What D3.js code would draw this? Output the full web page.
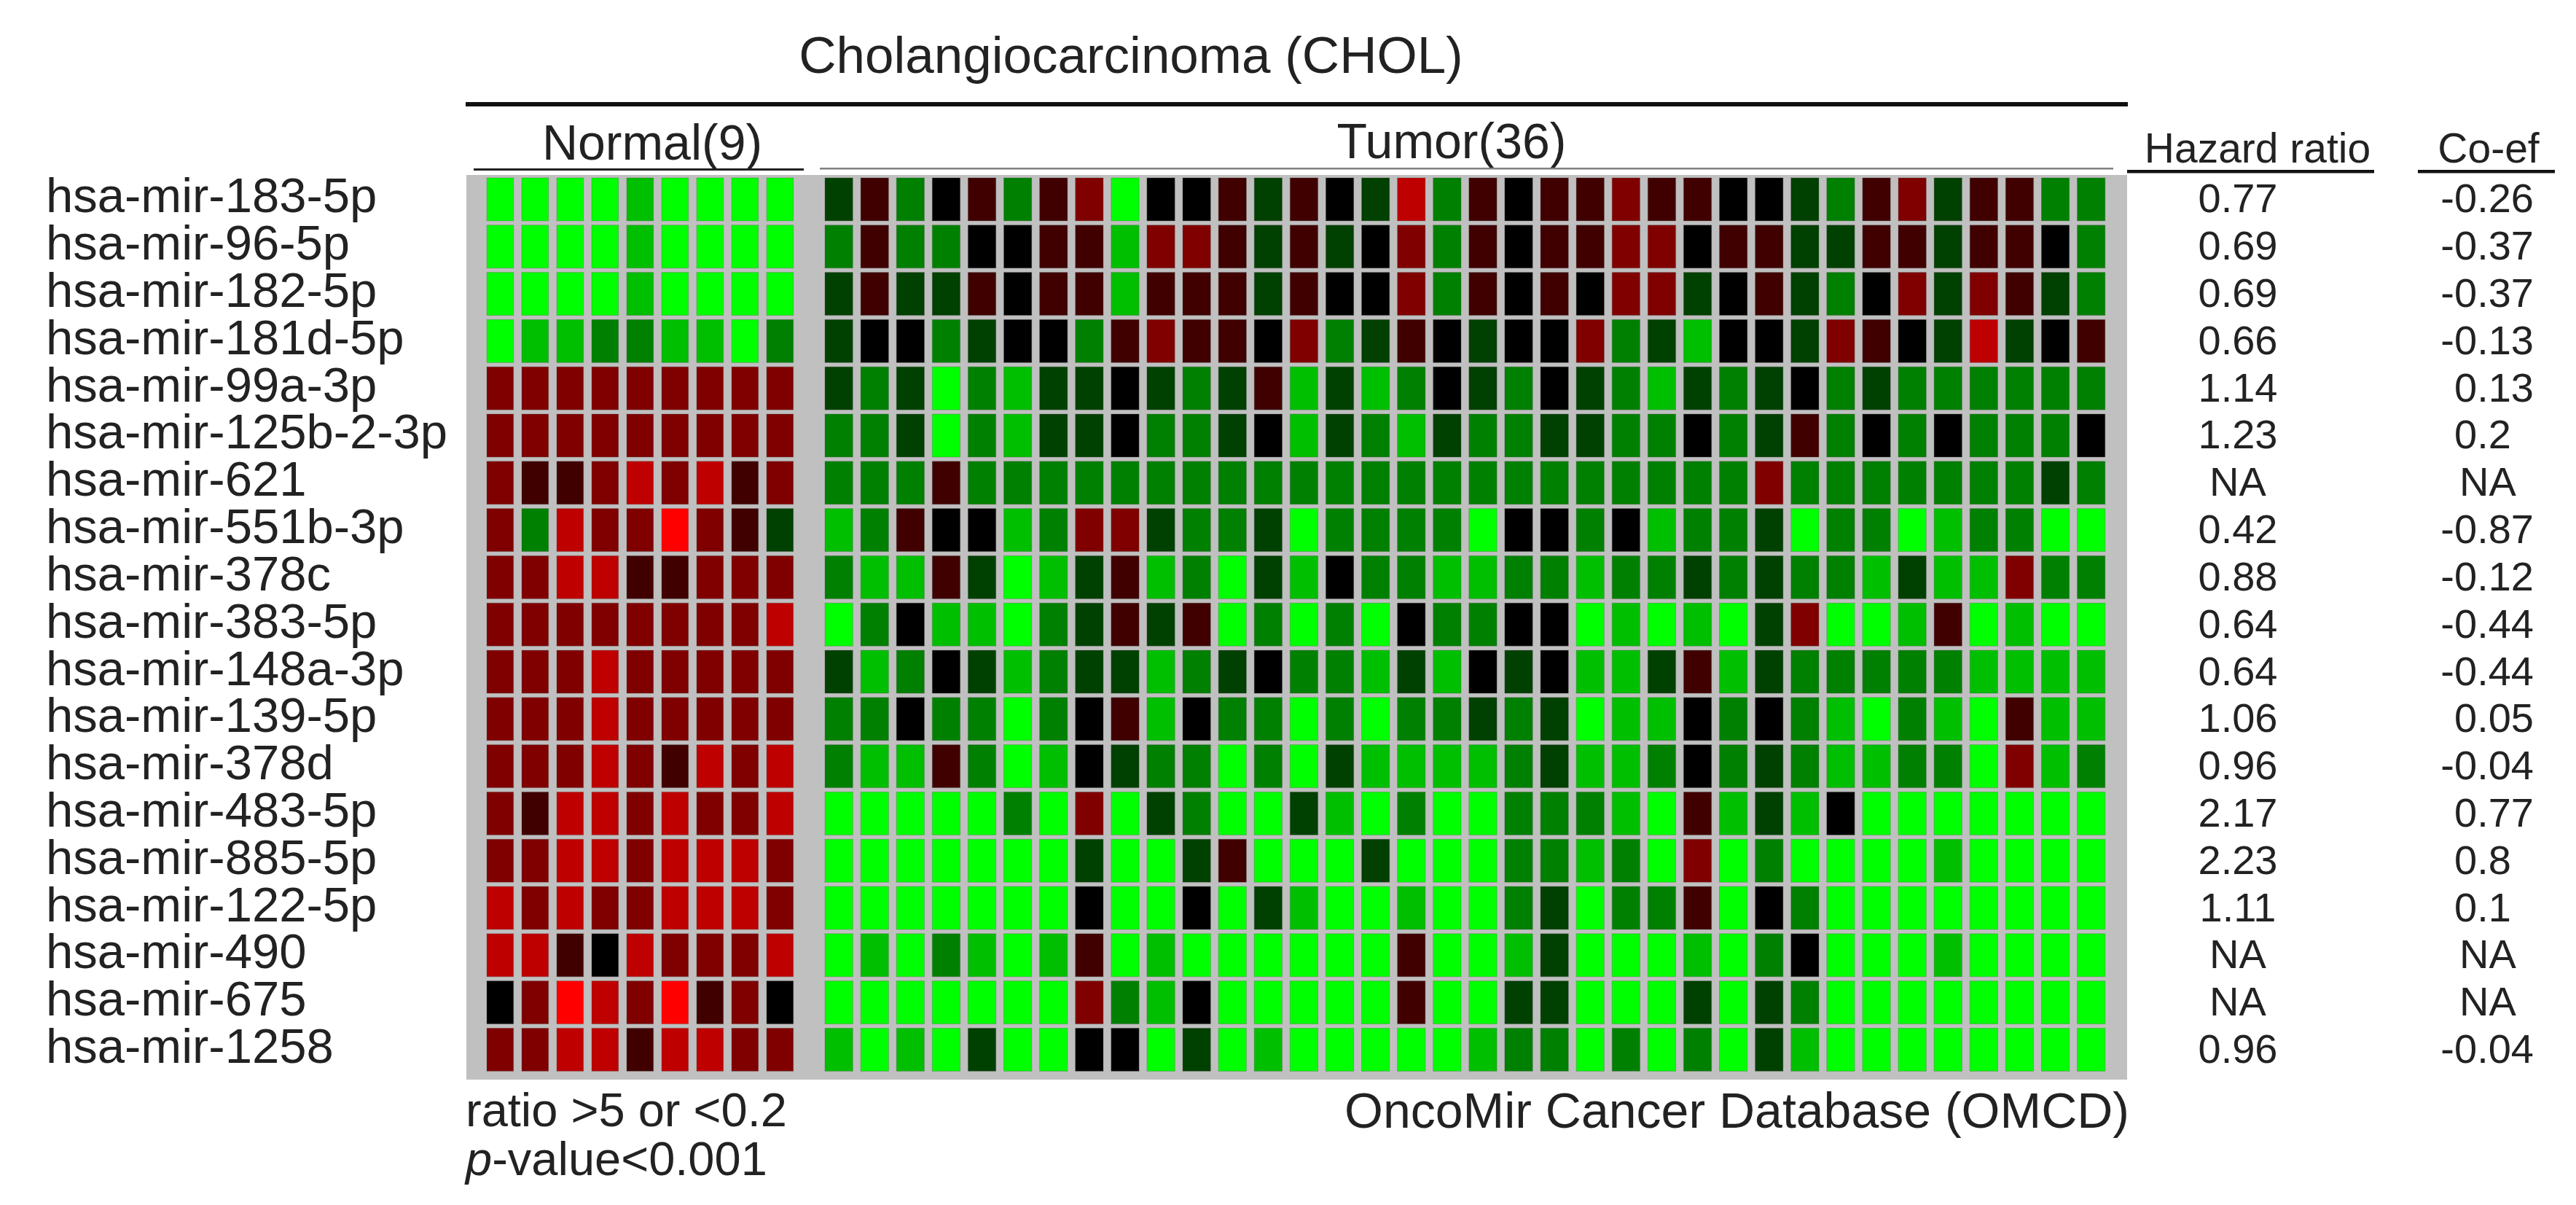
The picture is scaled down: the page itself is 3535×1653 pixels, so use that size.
<!DOCTYPE html>
<html><head><meta charset="utf-8">
<script src="https://cdn.jsdelivr.net/npm/d3@7"></script>
<style>
html,body{margin:0;padding:0;background:#fff;}
text{font-family:"Liberation Sans",Arial,sans-serif;fill:#222;}
</style>
</head><body>
<svg id="chart" width="3535" height="1653"></svg>
<script>
// ---------------- data ----------------
const mirnas = ["hsa-mir-183-5p","hsa-mir-96-5p","hsa-mir-182-5p","hsa-mir-181d-5p","hsa-mir-99a-3p",
  "hsa-mir-125b-2-3p","hsa-mir-621","hsa-mir-551b-3p","hsa-mir-378c","hsa-mir-383-5p","hsa-mir-148a-3p",
  "hsa-mir-139-5p","hsa-mir-378d","hsa-mir-483-5p","hsa-mir-885-5p","hsa-mir-122-5p","hsa-mir-490",
  "hsa-mir-675","hsa-mir-1258"];
const normalSamples = d3.range(1, 10).map(i => "N" + i);
const tumorSamples = d3.range(1, 37).map(i => "T" + i);
// expression level: -4 (strong green / down) .. 0 (black) .. 4 (strong red / up)
const normalValues = [
  [-4,-4,-4,-4,-3,-4,-4,-4,-4],
  [-4,-4,-4,-4,-3,-4,-4,-4,-4],
  [-4,-4,-4,-4,-3,-4,-4,-4,-4],
  [-4,-3,-3,-2,-2,-3,-3,-4,-2],
  [2,2,2,2,2,2,2,2,2],
  [2,2,2,2,2,2,2,2,2],
  [2,1,1,2,3,2,3,1,2],
  [2,-2,3,2,2,4,2,1,-1],
  [2,2,3,3,1,1,2,2,2],
  [2,2,2,2,2,2,2,2,3],
  [2,2,2,3,2,2,2,2,2],
  [2,2,2,3,2,2,2,2,2],
  [2,2,2,3,2,1,3,2,3],
  [2,1,3,3,2,3,2,2,3],
  [2,2,3,3,2,3,3,3,2],
  [3,2,3,2,2,3,3,3,2],
  [3,3,1,0,3,2,2,2,3],
  [0,2,4,3,2,4,1,2,0],
  [2,2,3,3,1,3,3,2,2]
];
const tumorValues = [
  [-1,1,-2,0,1,-2,1,2,-4,0,0, 1,-1,1,0,-1,3,-2,1,0,1,1, 2,1,1,0,0,-1,-2,1,2,-1,1,1, -2,-2],
  [-2,1,-2,-2,0,0,1,1,-3,2,2, 1,-1,1,-1,0,2,-2,1,0,1,1, 2,2,0,1,1,-1,-1,1,1,-1,1,1, 0,-2],
  [-1,1,-1,-1,1,0,1,1,-3,1,1, 1,-1,1,0,0,2,-2,1,0,1,0, 2,2,-1,0,1,-1,-2,0,2,-1,2,1, -1,-2],
  [-1,0,0,-2,-1,0,0,-2,1,2,1, 1,0,2,-2,-1,1,0,-1,0,0,2, -2,-1,-3,0,0,-1,2,1,0,-1,3,-1, 0,1],
  [-1,-2,-1,-4,-2,-3,-1,-1,0,-1,-2, -1,1,-3,-1,-3,-2,0,-1,-2,0,-1, -2,-3,-1,-2,-1,0,-2,-1,-2,-2,-2,-2, -2,-2],
  [-2,-2,-1,-4,-2,-3,-1,-1,0,-2,-2, -1,0,-3,-1,-2,-3,-1,-2,-2,-1,-1, -2,-2,0,-2,-1,1,-2,0,-2,0,-2,-2, -2,0],
  [-2,-2,-2,1,-2,-2,-2,-2,-2,-2,-2, -2,-2,-2,-2,-2,-2,-2,-2,-2,-2,-2, -2,-2,-2,-2,2,-2,-2,-2,-2,-2,-2,-2, -1,-2],
  [-3,-2,1,0,0,-3,-2,2,2,-1,-2, -2,-1,-4,-2,-2,-2,-2,-4,0,0,-2, 0,-3,-2,-2,-1,-4,-2,-2,-4,-3,-2,-2, -4,-4],
  [-2,-3,-3,1,-1,-4,-3,-1,1,-3,-2, -4,-1,-3,0,-2,-2,-3,-3,-2,-2,-3, -2,-2,-1,-2,-1,-2,-2,-3,-1,-3,-3,2, -2,-2],
  [-4,-2,0,-3,-3,-4,-2,-1,1,-1,1, -4,-2,-4,-2,-4,0,-2,-2,0,0,-4, -3,-4,-3,-4,-1,2,-4,-4,-3,1,-4,-3, -4,-4],
  [-1,-3,-2,0,-1,-3,-2,-1,-1,-3,-2, -1,0,-2,-2,-3,-1,-3,0,-1,0,-3, -3,-1,1,-3,-1,-2,-2,-2,-2,-2,-3,-3, -3,-3],
  [-2,-2,0,-2,-2,-4,-2,0,1,-3,0, -2,-2,-4,-2,-4,-2,-2,-1,-2,-1,-4, -3,-3,0,-2,0,-2,-3,-4,-2,-3,-4,1, -3,-3],
  [-2,-3,-3,1,-2,-4,-3,0,-1,-2,-2, -4,-2,-4,-1,-3,-3,-3,-3,-2,-1,-3, -3,-2,0,-2,-1,-2,-3,-3,-2,-2,-4,2, -3,-2],
  [-4,-4,-4,-4,-4,-2,-4,2,-4,-1,-2, -4,-4,-1,-3,-4,-2,-4,-4,-2,-2,-2, -3,-4,1,-3,-1,-3,0,-4,-4,-4,-4,-4, -4,-4],
  [-4,-4,-4,-4,-4,-4,-4,-1,-4,-4,-1, 1,-4,-4,-4,-1,-4,-4,-4,-2,-2,-3, -2,-4,2,-4,-2,-4,-4,-4,-4,-3,-4,-4, -4,-4],
  [-4,-4,-4,-4,-4,-4,-4,0,-4,-4,0, -4,-1,-3,-4,-4,-3,-4,-4,-2,-1,-4, -2,-2,1,-4,0,-2,-4,-4,-4,-4,-4,-4, -4,-4],
  [-4,-3,-4,-2,-3,-4,-3,1,-4,-3,-4, -4,-4,-4,-4,-4,1,-4,-4,-3,-1,-4, -4,-4,-3,-4,-2,0,-4,-4,-4,-3,-4,-4, -4,-4],
  [-4,-4,-4,-4,-4,-4,-4,2,-2,-3,0, -4,-4,-4,-4,-4,1,-4,-4,-1,-1,-4, -4,-4,-1,-4,-1,-2,-4,-4,-4,-4,-4,-4, -4,-4],
  [-3,-4,-3,-4,-1,-4,-4,0,0,-4,-1, -4,-3,-4,-4,-4,-4,-4,-3,-2,-2,-4, -2,-4,-2,-4,-1,-3,-4,-4,-4,-4,-4,-4, -4,-4]
];
const hazardRatio = ["0.77","0.69","0.69","0.66","1.14","1.23","NA","0.42","0.88","0.64","0.64","1.06","0.96","2.17","2.23","1.11","NA","NA","0.96"];
const coefficient = ["-0.26","-0.37","-0.37","-0.13","0.13","0.2","NA","-0.87","-0.12","-0.44","-0.44","0.05","-0.04","0.77","0.8","0.1","NA","NA","-0.04"];

// ---------------- chart ----------------
const svg = d3.select("#chart");
svg.append("rect").attr("width", 3535).attr("height", 1653).attr("fill", "#fff");

const color = d3.scaleLinear().domain([-4, 0, 4]).range(["#00ff00", "#000000", "#ff0000"]);

const y = d3.scaleBand().domain(mirnas).range([244, 1469.4]).paddingInner(0.09).paddingOuter(0);
const xN = d3.scaleBand().domain(normalSamples).range([668, 1088.7]).paddingInner(0.235).paddingOuter(0);
const xT = d3.scaleBand().domain(tumorSamples).range([1132, 2888.8]).paddingInner(0.22).paddingOuter(0);

// grey panel
svg.append("rect").attr("x", 640).attr("y", 240).attr("width", 2919 - 640).attr("height", 1481 - 240).attr("fill", "#c0c0c0");

function drawBlock(values, samples, x, cls) {
  const cells = [];
  values.forEach((row, i) => row.forEach((v, j) => cells.push({r: mirnas[i], c: samples[j], v})));
  svg.append("g").attr("class", cls).selectAll("rect").data(cells).join("rect")
    .attr("x", d => x(d.c)).attr("y", d => y(d.r))
    .attr("width", x.bandwidth()).attr("height", y.bandwidth())
    .attr("fill", d => color(d.v))
    .attr("stroke", "rgba(90,90,90,0.35)").attr("stroke-width", 1);
}
drawBlock(normalValues, normalSamples, xN, "normal");
drawBlock(tumorValues, tumorSamples, xT, "tumor");

// title and header lines
svg.append("text").attr("x", 1552).attr("y", 100).attr("text-anchor", "middle").attr("font-size", 71).text("Cholangiocarcinoma (CHOL)");
svg.append("rect").attr("x", 639).attr("y", 140).attr("width", 2920 - 639).attr("height", 6).attr("fill", "#111");

svg.append("text").attr("x", 895).attr("y", 219).attr("text-anchor", "middle").attr("font-size", 68).text("Normal(9)");
svg.append("rect").attr("x", 650).attr("y", 231).attr("width", 1103 - 650).attr("height", 3).attr("fill", "#222");
svg.append("text").attr("x", 1992).attr("y", 217).attr("text-anchor", "middle").attr("font-size", 68).text("Tumor(36)");
svg.append("rect").attr("x", 1125).attr("y", 230).attr("width", 2900 - 1125).attr("height", 2.5).attr("fill", "#808080");

svg.append("text").attr("x", 3098).attr("y", 223).attr("text-anchor", "middle").attr("font-size", 57).text("Hazard ratio");
svg.append("rect").attr("x", 2919).attr("y", 233).attr("width", 3258 - 2919).attr("height", 4.5).attr("fill", "#111");
svg.append("text").attr("x", 3415).attr("y", 223).attr("text-anchor", "middle").attr("font-size", 57).text("Co-ef");
svg.append("rect").attr("x", 3318).attr("y", 233).attr("width", 3506 - 3318).attr("height", 4.5).attr("fill", "#111");

// row labels
const base = d => y(d) + y.bandwidth() / 2 + 18;
svg.append("g").selectAll("text").data(mirnas).join("text")
  .attr("x", 63).attr("y", d => base(d)).attr("font-size", 67).text(d => d);

// hazard ratio
svg.append("g").selectAll("text").data(hazardRatio).join("text")
  .attr("x", 3071).attr("y", (d, i) => base(mirnas[i])).attr("text-anchor", "middle").attr("font-size", 56).text(d => d);

// coefficient
const coefZero = 3368, fsC = 56;
svg.append("g").selectAll("text").data(coefficient).join("text")
  .attr("x", d => d === "NA" ? 3414 : (d.startsWith("-") ? coefZero - 0.333 * fsC : coefZero))
  .attr("y", (d, i) => base(mirnas[i]))
  .attr("text-anchor", d => d === "NA" ? "middle" : "start")
  .attr("font-size", fsC).text(d => d);

// footer
svg.append("text").attr("x", 639).attr("y", 1545).attr("font-size", 65).text("ratio >5 or <0.2");
const pv = svg.append("text").attr("x", 639).attr("y", 1612).attr("font-size", 65);
pv.append("tspan").attr("font-style", "italic").text("p");
pv.append("tspan").text("-value<0.001");
svg.append("text").attr("x", 2922).attr("y", 1547).attr("text-anchor", "end").attr("font-size", 68).text("OncoMir Cancer Database (OMCD)");
</script>
</body></html>
